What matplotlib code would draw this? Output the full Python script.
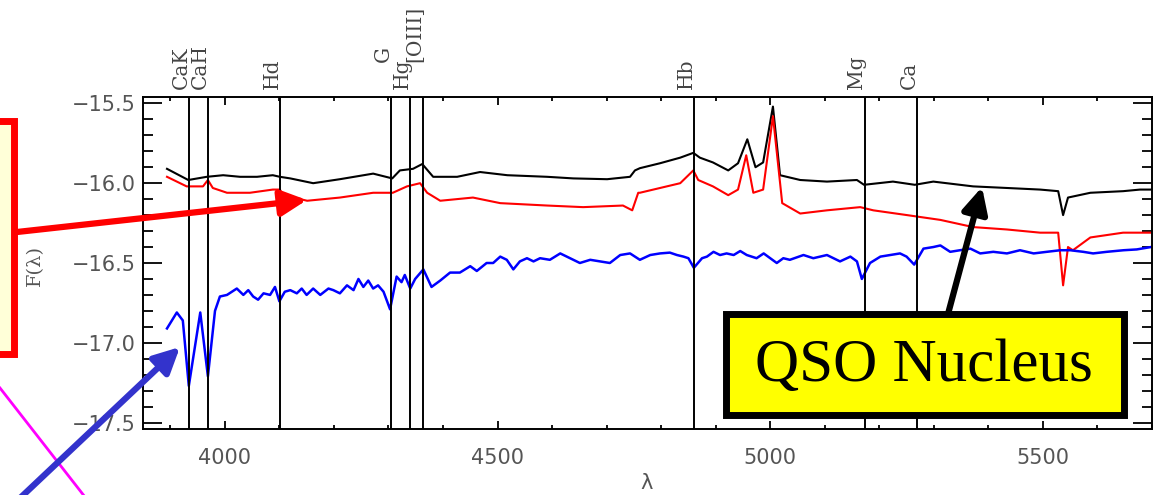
"""
Spectrum of a QSO host: nucleus vs. off-nuclear extractions,
with the usual absorption / emission features marked.
"""

import matplotlib
matplotlib.use("Agg")
import matplotlib.pyplot as plt
import matplotlib.transforms as mtransforms
from matplotlib.patches import Rectangle
from matplotlib.ticker import MultipleLocator

# --- data ---------------------------------------------------------------
black_wave = [3894, 3933, 3967, 3997, 4028, 4059, 4088, 4101, 4120, 4162, 4211, 4272,
              4307, 4321, 4345, 4362, 4382, 4426, 4468, 4518, 4591, 4639, 4701, 4743,
              4752, 4761, 4798, 4835, 4859, 4871, 4895, 4923, 4941, 4958, 4973, 4987,
              5005, 5018, 5055, 5104, 5159, 5172, 5225, 5265, 5299, 5372, 5434, 5495,
              5528, 5537, 5546, 5587, 5647, 5678, 5698]
black_flux = [-15.91, -15.98, -15.96, -15.95, -15.96, -15.96, -15.95, -15.96, -15.97, -16.00,
              -15.975, -15.94, -15.97, -15.92, -15.91, -15.88, -15.96, -15.96, -15.93, -15.95,
              -15.96, -15.97, -15.975, -15.96, -15.92, -15.906, -15.875, -15.84, -15.81, -15.84,
              -15.87, -15.92, -15.875, -15.725, -15.90, -15.87, -15.52, -15.95, -15.98, -15.99,
              -15.98, -16.01, -15.99, -16.01, -15.99, -16.02, -16.03, -16.04, -16.05, -16.20,
              -16.09, -16.06, -16.05, -16.04, -16.04]

red_wave = [3894, 3930, 3960, 3969, 3978, 4004, 4046, 4088, 4101, 4107, 4151, 4211, 4272,
            4308, 4334, 4358, 4371, 4395, 4455, 4505, 4591, 4657, 4730, 4747, 4758, 4761,
            4798, 4835, 4859, 4868, 4895, 4923, 4941, 4956, 4969, 4987, 5005, 5022, 5055,
            5104, 5165, 5189, 5251, 5312, 5372, 5434, 5495, 5528, 5537, 5546, 5555, 5587,
            5647, 5697]
red_flux = [-15.96, -16.02, -16.02, -15.98, -16.03, -16.06, -16.06, -16.04, -16.04, -16.075,
            -16.11, -16.09, -16.06, -16.06, -16.02, -16.00, -16.06, -16.11, -16.09, -16.125,
            -16.14, -16.15, -16.14, -16.17, -16.06, -16.06, -16.03, -16.00, -15.92, -15.98,
            -16.02, -16.075, -16.04, -15.825, -16.06, -16.04, -15.58, -16.125, -16.19, -16.17,
            -16.15, -16.17, -16.20, -16.23, -16.275, -16.29, -16.31, -16.31, -16.64, -16.40,
            -16.42, -16.34, -16.31, -16.31]

blue_wave = [3894, 3912, 3923, 3934, 3955, 3969, 3982,
             3991, 4004, 4022, 4034, 4043, 4052, 4061, 4071, 4083, 4092, 4100, 4110, 4120,
             4132, 4141, 4150, 4162, 4175, 4190, 4199, 4211, 4224, 4236, 4245, 4254, 4263,
             4272, 4281, 4291, 4303, 4315, 4324, 4330, 4340, 4349, 4364, 4379, 4395, 4413,
             4431, 4450, 4462, 4480, 4492, 4505, 4517, 4529, 4541, 4554, 4566, 4578, 4596,
             4615, 4633, 4651, 4670, 4688, 4706, 4725, 4743, 4761, 4780, 4798, 4816, 4829,
             4841, 4850, 4860, 4875, 4884, 4896, 4908, 4920, 4933, 4945, 4957, 4975, 4988,
             5000, 5012, 5024, 5036, 5061, 5079, 5104, 5128, 5147, 5159, 5168, 5183, 5202,
             5220, 5238, 5250, 5264, 5281, 5299, 5312, 5330, 5348, 5367, 5385, 5409, 5434,
             5458, 5483, 5507, 5532, 5550, 5574, 5592, 5617, 5648, 5672, 5698]
blue_flux = [-16.91, -16.81, -16.86, -17.27, -16.81, -17.21, -16.80,
             -16.71, -16.70, -16.66, -16.70, -16.67, -16.71, -16.73, -16.69, -16.70, -16.65,
             -16.74, -16.68, -16.67, -16.69, -16.66, -16.70, -16.66, -16.70, -16.66, -16.67,
             -16.69, -16.64, -16.67, -16.60, -16.65, -16.61, -16.66, -16.64, -16.68, -16.79,
             -16.585, -16.62, -16.575, -16.66, -16.60, -16.54, -16.65, -16.61, -16.56, -16.56,
             -16.52, -16.55, -16.50, -16.50, -16.46, -16.48, -16.54, -16.49, -16.47, -16.49,
             -16.47, -16.48, -16.44, -16.47, -16.50, -16.48, -16.49, -16.50, -16.45, -16.44,
             -16.48, -16.45, -16.44, -16.435, -16.45, -16.46, -16.47, -16.53, -16.47, -16.46,
             -16.43, -16.45, -16.44, -16.45, -16.425, -16.45, -16.47, -16.44, -16.47, -16.50,
             -16.47, -16.48, -16.45, -16.47, -16.45, -16.49, -16.46, -16.49, -16.60, -16.50,
             -16.46, -16.45, -16.44, -16.46, -16.51, -16.41, -16.40, -16.39, -16.43, -16.42,
             -16.41, -16.44, -16.43, -16.44, -16.42, -16.44, -16.43, -16.42, -16.42, -16.43,
             -16.44, -16.43, -16.42, -16.415, -16.40]

line_names = ["CaK", "CaH", "Hd", "G", "Hg", "[OIII]", "Hb", "Mg", "Ca"]
line_waves = [3934, 3969, 4101, 4305, 4340, 4363, 4861, 5173, 5269]
raised_labels = ["G", "[OIII]"]

# --- figure -------------------------------------------------------------
W, H = 1154, 495
fig = plt.figure(figsize=(W / 100, H / 100), dpi=100)
ax = fig.add_axes([143 / W, 1 - 429 / H, (1152 - 143) / W, (429 - 97) / H])

ax.plot(black_wave, black_flux, color="black", lw=1.5)
ax.plot(red_wave, red_flux, color="red", lw=1.5)
ax.plot(blue_wave, blue_flux, color="blue", lw=1.8)

for name, lam in zip(line_names, line_waves):
    ax.axvline(lam, color="black", lw=1.4)
    rise = 25 if name in raised_labels else 6
    ax.annotate(name, xy=(lam, 1), xycoords=ax.get_xaxis_transform(),
                xytext=(-1.5, rise), textcoords="offset points",
                rotation=90, rotation_mode="anchor", ha="left", va="baseline",
                family="DejaVu Serif", fontsize=14.5, color="#444444")

ax.set_xlim(3850, 5700)
ax.set_ylim(-17.54, -15.46)
ax.set_xticks([4000, 4500, 5000, 5500])
ax.xaxis.set_minor_locator(MultipleLocator(100))
ax.set_yticks([-17.5, -17.0, -16.5, -16.0, -15.5])
ax.yaxis.set_minor_locator(MultipleLocator(0.1))
ax.tick_params(axis="both", which="both", direction="in", top=True, right=True,
               labelsize=15, labelcolor="#555555", width=1.3)
ax.tick_params(axis="x", which="major", length=6, pad=14)
ax.tick_params(axis="x", which="minor", length=3)
ax.tick_params(axis="y", which="major", length=14, pad=5)
ax.tick_params(axis="y", which="minor", length=7)
for s in ax.spines.values():
    s.set_linewidth(1.4)

fig.text(35 / W, 1 - 265 / H, "F(λ)", rotation=90, ha="center", va="center",
         family="DejaVu Serif", fontsize=14, color="#555555")
fig.text(647 / W, 1 - 483 / H, "λ", ha="center", va="center",
         fontsize=15, color="#555555")

# --- overlays (positions in image pixels, y down) -----------------------
pix = mtransforms.Affine2D().scale(1 / W, -1 / H).translate(0, 1) + fig.transFigure

fig.patches.append(Rectangle((-60, 121), 74, 233, transform=pix, facecolor="#FFFFD8",
                             edgecolor="red", lw=5, zorder=5))
fig.patches.append(Rectangle((726, 314), 398, 101, transform=pix, facecolor="yellow",
                             edgecolor="black", lw=5, zorder=5))
fig.text(924 / W, 1 - 366 / H, "QSO Nucleus", ha="center", va="center",
         family="Liberation Serif", fontsize=44, color="black", zorder=6)

plt.plot([0, 85], [388, 497], color="magenta", lw=2, transform=pix, clip_on=False)


def arrow(x0, y0, x1, y1, color):
    ax.annotate("", xy=(x1, H - y1), xycoords="figure pixels",
                xytext=(x0, H - y0), textcoords="figure pixels",
                arrowprops=dict(arrowstyle="-|>,head_length=1.1,head_width=0.55",
                                color=color, lw=4.5, shrinkA=0, shrinkB=0,
                                mutation_scale=14),
                annotation_clip=False, zorder=7)


arrow(17, 232, 307, 200, "red")
arrow(18, 500, 180, 347, "#3333CC")
arrow(948, 314, 982, 187, "black")

fig.savefig("out.png", dpi=100)
